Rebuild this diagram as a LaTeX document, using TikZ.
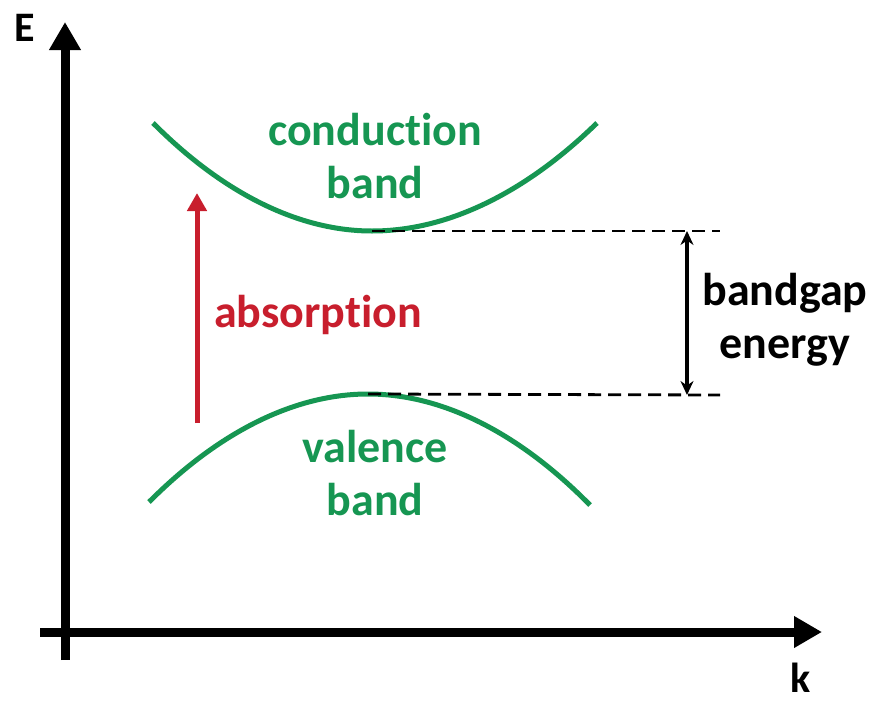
\documentclass[tikz,border=0pt]{standalone}
\usepackage{fontspec}
\setmainfont{Carlito}[Ligatures=NoCommon]
\usetikzlibrary{arrows.meta}
\definecolor{bandgreen}{RGB}{22,150,82}
\definecolor{absred}{RGB}{200,30,45}
\begin{document}
\begin{tikzpicture}[x=1pt, y=-1pt,
        every node/.style={font=\fontsize{46}{53}\selectfont\bfseries, align=center, inner sep=0pt},
        axis/.style={line width=9pt, -{Triangle[length=28pt, width=30pt]}},
        bandline/.style={bandgreen, line width=5pt},
        levelline/.style={dash pattern=on 13pt off 7pt, line width=2.8pt},
        gaparrow/.style={line width=3.5pt, {Stealth[length=14pt, width=13pt]}-{Stealth[length=14pt, width=13pt]}},
        absarrow/.style={absred, line width=5pt, -{Triangle[length=18pt, width=19pt]}}]
        \useasboundingbox (0,0) rectangle (871,702);
        % axes
        \coordinate (ybot) at (65,660);
        \coordinate (ytop) at (65,22);
        \coordinate (xleft) at (40,632);
        \coordinate (xright) at (822,632);
        \draw[axis] (ybot)--(ytop);
        \draw[axis] (xleft)--(xright);
        \node[font=\fontsize{42}{50}\selectfont\bfseries, anchor=base] (elabel) at (25,41) {E};
        \node[font=\fontsize{42}{50}\selectfont\bfseries, anchor=base] (klabel) at (801,692) {k};
        % bands
        \coordinate (cbleft) at (153,123);
        \coordinate (cbmin) at (372,231);
        \coordinate (cbright) at (597,123);
        \coordinate (vbleft) at (149,502);
        \coordinate (vbmax) at (368,394);
        \coordinate (vbright) at (590,505);
        \draw[bandline] (cbleft) parabola bend (cbmin) (cbright);
        \draw[bandline] (vbleft) parabola bend (vbmax) (vbright);
        \node[bandgreen, anchor=base] (cblabel) at (375,198) {conduction\\band};
        \node[bandgreen, anchor=base] (vblabel) at (375,515) {valence\\band};
        % gap
        \coordinate (cbend) at (720,231);
        \coordinate (vbend) at (720,395);
        \coordinate (gaptop) at (687,231);
        \coordinate (gapbot) at (687,395);
        \draw[levelline] (cbmin)--(cbend);
        \draw[levelline] (vbmax)--(vbend);
        \draw[gaparrow] (gaptop)--(gapbot);
        \node[anchor=base] (gaplabel) at (785,358) {bandgap\\energy};
        % absorption
        \coordinate (absfrom) at (197,423);
        \coordinate (absto) at (197,193);
        \draw[absarrow] (absfrom)--(absto);
        \node[absred, anchor=base] (abslabel) at (318,327) {absorption};
    \end{tikzpicture}
\end{document}
